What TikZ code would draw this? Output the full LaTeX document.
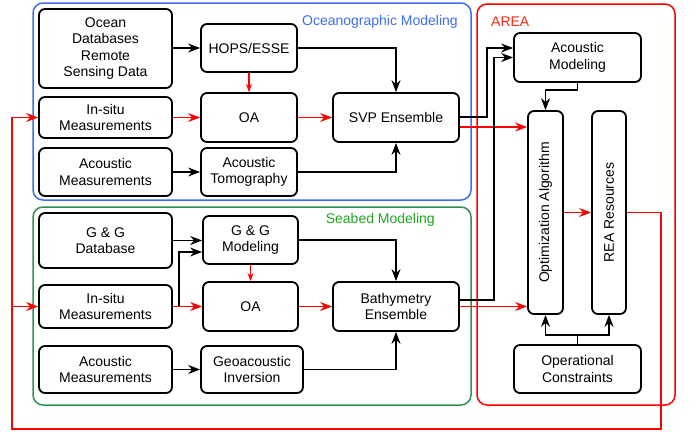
\documentclass[tikz,border=0pt]{standalone}
\usepackage{fontspec}
\setmainfont{Liberation Sans}
\usetikzlibrary{arrows.meta,calc}
\definecolor{oblue}{RGB}{60,110,240}
\definecolor{sgreen}{RGB}{50,145,85}
\definecolor{sgreentxt}{RGB}{30,165,30}
\definecolor{areared}{RGB}{255,40,20}
\begin{document}
\begin{tikzpicture}[x=1pt,y=-1pt,
  box/.style={draw=black,line width=1.8pt,rounded corners=6pt,align=center,inner sep=0pt,
    font=\fontsize{14}{16.5}\selectfont},
  grp/.style={line width=1.5pt,rounded corners=10pt},
  arr/.style={draw=black,line width=1.3pt,-{Stealth[length=12pt,width=9pt,inset=4pt]}},
  rarr/.style={draw=red,line width=1.3pt,-{Stealth[length=12pt,width=9pt,inset=4pt]}},
  sarr/.style={draw=red,line width=1.3pt,-{Stealth[length=8pt,width=6pt,inset=2.5pt]}},
  lbl/.style={font=\fontsize{14}{16.5}\selectfont,inner sep=0pt}]
\useasboundingbox (0,0) rectangle (694,432);
% groups
\draw[grp,draw=oblue] (33,3) rectangle (471,200);
\draw[grp,draw=sgreen] (33,207) rectangle (471,405);
\draw[grp,draw=red] (477,4) rectangle (675,405);
\node[lbl,text=oblue,anchor=east] (tocean) at (458,22) {Oceanographic Modeling};
\node[lbl,text=sgreentxt,anchor=east] (tseabed) at (435,220) {Seabed Modeling};
\node[lbl,text=areared,anchor=west] (tarea) at (491,22) {AREA};
% ocean nodes
\node[box,minimum width=133pt,minimum height=79pt] (ocean) at (105.5,48.5) {Ocean\\Databases\\Remote\\Sensing Data};
\node[box,minimum width=96pt,minimum height=48pt] (hops) at (249,48) {HOPS/ESSE};
\node[box,minimum width=133pt,minimum height=41pt] (ins1) at (105.5,117.5) {In-situ\\Measurements};
\node[box,minimum width=96pt,minimum height=49pt] (oa1) at (249,117.5) {OA};
\node[box,minimum width=126pt,minimum height=49pt] (svp) at (396,117.5) {SVP Ensemble};
\node[box,minimum width=133pt,minimum height=48pt] (am1) at (105.5,172) {Acoustic\\Measurements};
\node[box,minimum width=96pt,minimum height=48pt] (tomo) at (249,172) {Acoustic\\Tomography};
% seabed nodes
\node[box,minimum width=133pt,minimum height=55pt] (ggdb) at (105.5,240.5) {G \& G\\Database};
\node[box,minimum width=95pt,minimum height=48pt] (ggmod) at (250.5,240) {G \& G\\Modeling};
\node[box,minimum width=133pt,minimum height=43pt] (ins2) at (105.5,306.5) {In-situ\\Measurements};
\node[box,minimum width=95pt,minimum height=49pt] (oa2) at (250.5,306.5) {OA};
\node[box,minimum width=126pt,minimum height=49pt] (bath) at (396,306.5) {Bathymetry\\Ensemble};
\node[box,minimum width=133pt,minimum height=47pt] (am2) at (105.5,369.5) {Acoustic\\Measurements};
\node[box,minimum width=102pt,minimum height=47pt] (geo) at (252,369.5) {Geoacoustic\\Inversion};
% AREA nodes
\node[box,minimum width=127pt,minimum height=49pt] (acmod) at (577.5,57.5) {Acoustic\\Modeling};
\node[box,minimum width=35pt,minimum height=203pt] (opt) at (545.5,212.5) {};
\node[lbl,rotate=90] (optt) at (opt.center) {Optimization Algorithm};
\node[box,minimum width=34pt,minimum height=203pt] (rea) at (609,212.5) {};
\node[lbl,rotate=90] (reat) at (rea.center) {REA Resources};
\node[box,minimum width=127pt,minimum height=48pt] (opc) at (577.5,369) {Operational\\Constraints};
% coordinates
\coordinate (j1) at (487,48);
\coordinate (j2) at (494,57.5);
\coordinate (j3) at (179,252);
\coordinate (fb) at (661,429);
\coordinate (fl) at (12,429);
% ocean connectors
\draw[arr] (hops.west -| ocean.east) -- (hops.west);
\draw[arr] (hops.east) -| (svp.north);
\draw[sarr] (hops.south) -- (oa1.north);
\draw[rarr] (ins1.east) -- (oa1.west);
\draw[rarr] (oa1.east) -- (svp.west);
\draw[arr] (am1.east) -- (tomo.west);
\draw[arr] (tomo.east) -| (svp.south);
% seabed connectors
\draw[arr] (ggdb.east) -- (ggdb.east -| ggmod.west);
\draw[arr] (ins2.east) -| (j3) -- (j3 -| ggmod.west);
\draw[rarr] (ins2.east) -- (oa2.west);
\draw[sarr] (ggmod.south) -- (oa2.north);
\draw[arr] (ggmod.east) -| (bath.north);
\draw[rarr] (oa2.east) -- (bath.west);
\draw[arr] (am2.east) -- (geo.west);
\draw[arr] (geo.east) -| (bath.south);
% to AREA
\draw[arr] ([yshift=0.5pt]svp.east) -| (j1) -- (j1 -| acmod.west);
\draw[rarr] ([yshift=-9.5pt]svp.east) coordinate (r1) -- (r1 -| opt.west);
\draw[arr] ([yshift=6.5pt]bath.east) -| (j2) -- (acmod.west);
\draw[rarr] (bath.east) -- (bath.east -| opt.west);
\draw[arr] (acmod.south) -- ++(0,7) -| (opt.north);
\draw[rarr] (opt.east) -- (rea.west);
\draw[line width=1.3pt] (opc.north) -- ++(0,-9) coordinate (oc);
\draw[arr] (oc) -| (opt.south);
\draw[arr] (oc) -| (rea.south);
% feedback
\draw[rarr] (rea.east) -| (fb) -- (fl) |- (ins1.west);
\draw[rarr] (fl |- ins2.west) -- (ins2.west);
\end{tikzpicture}
\end{document}
